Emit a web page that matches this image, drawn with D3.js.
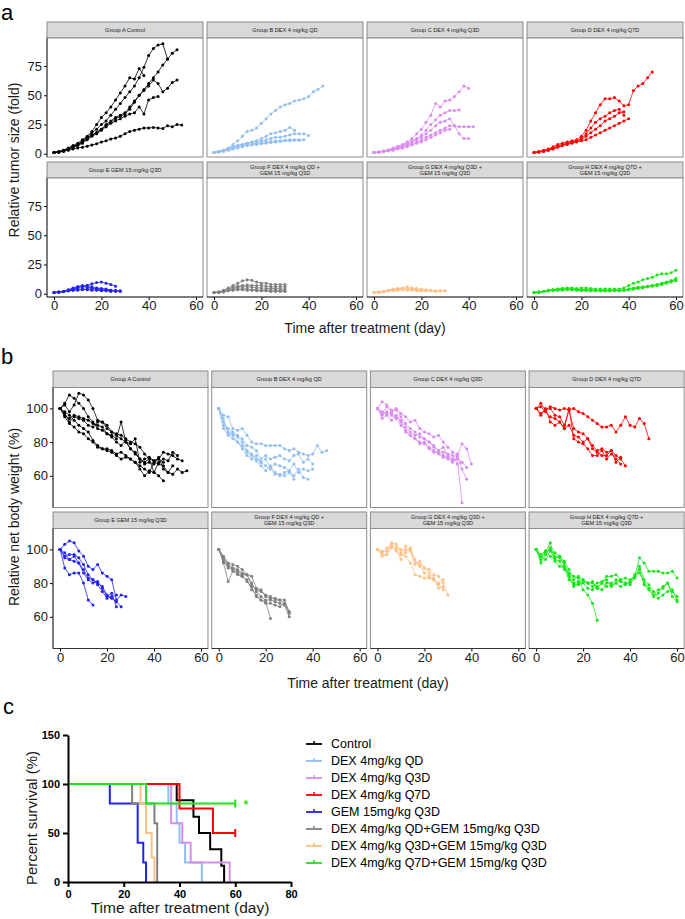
<!DOCTYPE html>
<html>
<head>
<meta charset="utf-8">
<script src="https://cdn.jsdelivr.net/npm/d3@7"></script>
<style>
  body { margin: 0; background: #fff; }
  svg { display: block; font-family: "Liberation Sans", Arial, sans-serif; }
</style>
</head>
<body>
<svg id="fig" width="685" height="919"></svg>
<script>
// ---------- data ----------
const days = [0,2,4,6,8,10,12,14,16,18,20,22,24,26,28,30,32,34,36,38,40,42,44,46,48,50,52,54,56,58,60];

const groupNames = ["Group A Control", "Group B DEX 4 mg/kg QD", "Group C DEX 4 mg/kg Q3D", "Group D DEX 4 mg/kg Q7D",
  "Group E GEM 15 mg/kg Q3D", "Group F DEX 4 mg/kg QD +\nGEM 15 mg/kg Q3D",
  "Group G DEX 4 mg/kg Q3D +\nGEM 15 mg/kg Q3D", "Group H DEX 4 mg/kg Q7D +\nGEM 15 mg/kg Q3D"];
const groupColors = ["#000000", "#92BFEE", "#D98CF0", "#FF0000", "#2222F0", "#808080", "#FDC086", "#1AE51A"];

// relative tumor size (fold), one array per mouse, measured at days[]
const tumorA = [
  [1,1.5,2,3,4,5,5.5,6.5,7.5,8.5,10,11,12.5,13.5,15,17,19,20,21,22,22,22.5,22,21.5,24,23,25,24.5],
  [1,2,3,5,7,9,12,15,19,25,31,35,40,46,52,58,65,64,73,67],
  [1,1.5,3,4,6,8,11,14,18,21,25,28,33,38,43,48,53,58,65,74,84,90,93,94,81],
  [1,1.5,2.5,4,6,8,10,13,16,18,21,25,28,31,33,35,40,45,50,54,58,63,60,53,56,61,63],
  [1,1.5,2.5,4,5.5,7.5,10,13,16,18,21,24,27,30,32,34,38,44,50,55,60,65,70,76,81,86,89],
  [1,1.5,2.5,4,5.5,7,9,12,15,17,20,23,26,28,30,32,34,35,40,34,46,48,49]
];
const tumorB = [
  [1,2,3,5,8,11,15,19,20,22,26,30,34,37,40,42,43,45,46,47,49,53,55,58],
  [1,2,3,4.5,6,7,8,9,10,11,13,15,17,18,19,20,22.5,20],
  [1,2,3,4,5.5,7,8,9,10,10.5,11,12,13,14,14,15,16,17,17,17,15.5],
  [1,1.5,2.5,3.5,5,6,7,8,8.5,9,9.5,10,10.5,11,11,11.5,12,12,12],
  [1,1.5,2,3,4,5,6,7,7.5,8,8.5,9,9.5,10,10.5,11,11,11.5,11.5,12]
];
const tumorC = [
  [1,1.5,2.5,3.5,5,6.5,8,10,13,17,21,27,33,43,40,45,46,49,53,58,56],
  [1,1.5,2,3,4,5.5,7,9,11,13,16,20,25,29,33,35,37,37,37.5],
  [1,1.5,2,3,4,5,6.5,8,10,12,14,17,20,24,27,28,30,24,17,13,13],
  [1,1.5,2,2.5,3.5,4.5,5.5,7,8.5,10,12,14,16,18,20,22,24,24,23,23,23,23],
  [1,1.5,2,2.5,3,4,5,6,7.5,9,10,12,14,16,18,20,21]
];
const tumorD = [
  [1,2,3,4,6,8,9,10,11,12,15,20,28,35,42,47,47,48,45,41,42,54,58,60,65,70],
  [1,1.5,2.5,3.5,5,6.5,8,9,10,11,13,17,22,27,30,32,35,37,38,33],
  [1,1.5,2,3,4.5,6,7.5,8.5,9.5,10.5,12,15,18,21,24,28,30,32,35,36],
  [1,1.5,2,3,4,5.5,7,8,9,10,11,12,14,16,18,20,22,24,26,28,30]
];
const tumorE = [
  [1,1.5,2,3,4,5,6,7,8.5,9.5,10,9,8,6.5],
  [1,1.5,2,3.5,5,6,7,7,6,5,4.5,4,3,3,2.5],
  [1,1.5,2,3,4,6,6.5,5.5,5,4,3,3,2.5],
  [1,1.2,1.8,2.5,3,4,4,3.5,3,3,2.5,2.5,2,2,2],
  [1,1.3,2,2.5,3,3,3.5,4,4,4.5,4,3.5,3]
];
const tumorF = [
  [1,1.5,3,5,7,9,11,12,11.5,10,9,9,8,8,8,8],
  [1,1.5,2.5,4,5.5,6.5,7,7.5,7,7,7,6.5,6,6,6,6],
  [1,1.3,2,3.5,4.5,5.5,6,6,5.5,5,5,4.5,4.5,4.5,4,4],
  [1,1.2,1.8,3,3.5,4,4,4,3.5,3.5,3,3,3,3,2.5,2.5],
  [1,1.2,1.5,2.5,3,3.5,3.5,3,3,2.5,2.5,2.5,2,2,2,2]
];
const tumorG = [
  [1,1.5,2,3,4,4.5,5,6,5,4.5,4,3.5,3,2.5,2.5,2.5],
  [1,1.3,2,3,3.5,4,4.5,4.5,4,3.5,3,3,2.5,2,2.5,2.5],
  [1,1.2,1.8,2.5,3,3,3.5,3,3,2.5,2.5,2.5],
  [1,1.4,2,2.5,3,3.5,4,4,4,3.5,3]
];
const tumorH = [
  [1,1.5,2,3,3.5,4,4.5,5,5,4.5,5,5,4.5,4,4,4,4,4,4,5,7,9,10,12,13,14,16,17,17,18,20],
  [1,1.5,2,3,3.5,4,4.5,4,4,3.5,3.5,3.5,3,3,3,3,3,3,3,3,3.5,4,5,5.5,6,7,7.5,8.5,9.5,11,13],
  [1,1.3,2,2.5,3,3.5,3.5,4,4,4,3.5,3,3,3,2.5,2.5,2.5,3,3,3,4,5,5.5,6,6.5,7,8,9,10,11,12],
  [1,1.2,1.8,2.5,3,3,3,3.5,3.5,3,3,3,2.5,2.5,2.5,2.5,2.5,2.5,2.5,3,3.5,4,4.5,5,6,6.5,7,8,9,10,11],
  [1,1.5,2,2.5,3,3.5,4,4,3.5,3.5,3,3,3,3]
];

// relative net body weight (%)
const weightA = [
  [100,97,92,95,94,93,90,89,92,92,88,86,85,84,82,80,79,77,73,70,69,70,74,73,72,70,69],
  [100,95,91,89,86,85,82,80,77,76,75,74,72,70,71,70,68,66,64,62,68,67,66,62,61,64,62,63],
  [100,103,108,106,103,100,95,92,88,87,85,83,80,78,81,76,73,70,68,70,62,60,57],
  [100,102,98,102,109,108,105,100,93,92,90,86,84,82,80,76,74,70,67,68,67,71,64,62,66],
  [100,98,96,93,90,88,86,81,78,76,76,75,73,74,72,70,68,64,60,63,62,68,70,69,74,72],
  [100,96,94,96,95,94,93,91,90,89,85,84,82,92,80,79,82,68,70,71,69,70,68]
];
const weightB = [
  [100,96,95,88,87,88,84,80,79,79,78,78,78,78,76,75,76,74,73,72,73,78,74,75],
  [100,92,88,86,84,82,78,77,75,70,72,70,71,72,70,69,72,73,68,70,67],
  [100,90,86,85,83,80,75,73,70,68,70,65,67,66,65,63,67,62,64,63,64],
  [100,88,84,82,80,78,74,72,69,66,63,66,62,60,62,63,60,64,59,58],
  [100,94,85,84,80,76,72,70,72,68,66,64,61,61,60,62,58]
];
const weightC = [
  [100,104,102,99,100,97,95,92,93,88,86,85,83,84,80,77,74,72,79,76,67],
  [100,97,101,98,99,95,91,88,86,83,82,80,78,75,77,72,70,73,64,58],
  [100,96,98,96,94,90,87,84,82,80,79,76,74,74,72,71,69,70,44],
  [100,94,96,93,96,92,86,84,82,79,80,77,75,73,71,70,68,71,68,65],
  [100,98,97,97,95,93,89,86,84,85,82,80,77,75,74,73,72,67,68]
];
const weightD = [
  [100,103,99,101,100,99,100,99,100,98,97,95,93,91,89,89,90,86,90,95,90,89,94,91,82],
  [100,97,99,100,96,95,90,99,88,86,85,82,78,75,76,74,75,72,70,66],
  [100,101,98,95,94,92,88,90,84,83,80,82,76,74,72,72,75,68,71],
  [100,96,100,92,90,92,88,100,82,80,79,76,72,72,75,70,73,70,67]
];
const weightE = [
  [100,103,105,104,99,96,90,88,91,86,84,82,70,73,72],
  [100,96,97,97,95,91,85,82,80,78,73,71,69,66],
  [100,98,94,96,92,86,82,80,81,77,72,74,66],
  [100,89,85,86,86,80,70,67],
  [100,95,94,93,92,88,83,82,79,75,71,72,73]
];
const weightF = [
  [100,96,92,91,90,88,85,84,77,76,72,71,71,70,70,63],
  [100,94,90,89,88,86,85,80,75,72,70,70,69,68,67,60],
  [100,93,89,88,86,84,81,78,72,70,68,68,67,66,68,62],
  [100,92,81,87,85,84,82,76,73,70,69,59],
  [100,95,91,89,87,85,85,79,76,75,73,72,70,70,68,63]
];
const weightG = [
  [100,99,99,104,103,98,102,100,92,91,89,88,85,84,80,73],
  [100,96,97,103,101,100,98,101,94,90,86,84,82,79,82],
  [100,98,101,102,100,94,100,99,91,93,89,86,83,80,76],
  [100,97,97,101,99,97,96,92,85,84,83,83,82,77,78]
];
const weightH = [
  [100,96,98,104,96,95,92,85,80,81,82,80,80,77,80,84,84,85,82,83,82,84,95,92,87,87,87,86,86,87,83],
  [100,94,99,100,93,90,89,82,79,79,80,77,76,78,76,80,80,82,81,80,79,84,88,79,76,72,74,78,80,72,69],
  [100,96,94,99,98,96,93,88,82,84,82,80,81,77,80,78,79,80,82,79,81,85,86,80,77,73,76,77,80,75,72],
  [100,92,97,101,95,96,90,84,78,80,81,80,78,80,81,82,78,80,78,80,80,83,90,82,79,75,71,73,75,76,70],
  [100,97,99,96,94,93,88,86,84,83,76,73,68,58]
];

const tumorGroups = [tumorA, tumorB, tumorC, tumorD, tumorE, tumorF, tumorG, tumorH];
const weightGroups = [weightA, weightB, weightC, weightD, weightE, weightF, weightG, weightH];

// Kaplan-Meier survival steps
const survNames = ["Control", "DEX 4mg/kg QD", "DEX 4mg/kg Q3D", "DEX 4mg/kg Q7D", "GEM 15mg/kg Q3D",
  "DEX 4mg/kg QD+GEM 15mg/kg Q3D", "DEX 4mg/kg Q3D+GEM 15mg/kg Q3D", "DEX 4mg/kg Q7D+GEM 15mg/kg Q3D"];
const survTimes = [
  [0,39,45,47,51,55,56],
  [0,36,39,40,42,48],
  [0,37,41,44,58],
  [0,40,52,60],
  [0,15,25,27,28],
  [0,23,31,32],
  [0,26,28,30,31],
  [0,28,60]
];
const survPct = [
  [100,83.3,66.7,50,33.3,16.7,0],
  [100,80,60,40,20,0],
  [100,60,40,20,0],
  [100,75,50,50],
  [100,80,40,20,0],
  [100,80,60,0],
  [100,80,50,25,0],
  [100,80,80]
];
const survCensored = [false, false, false, true, false, false, false, true];

const xTicks = [0, 20, 40, 60];
const tumorTicks = [0, 25, 50, 75];
const weightTicks = [60, 80, 100];
const survXTicks = [0, 20, 40, 60, 80];
const survYTicks = [0, 50, 100, 150];

// ---------- drawing ----------
const svg = d3.select("#fig");
const FONT = "Liberation Sans, Arial, sans-serif";

function drawFacets(cfg) {
  cfg.groups.forEach((series, i) => {
    const col = i % 4, row = Math.floor(i / 4);
    const left = cfg.x0 + col * cfg.colStep;
    const stripTop = cfg.top + row * cfg.rowStep;
    const top = stripTop + cfg.stripH;
    const x = d3.scaleLinear().domain([-3, 63]).range([left, left + cfg.plotW]);
    const y = d3.scaleLinear().domain(cfg.yDomain).range([top + cfg.plotH, top]);
    const g = svg.append("g");

    g.append("rect")
      .attr("x", left).attr("y", stripTop)
      .attr("width", cfg.plotW).attr("height", cfg.stripH)
      .attr("fill", "#d9d9d9").attr("stroke", "#8c8c8c").attr("stroke-width", 1);
    const lines = groupNames[i].split("\n");
    lines.forEach((t, k) => {
      g.append("text")
        .attr("x", left + cfg.plotW / 2)
        .attr("y", stripTop + cfg.stripH / 2 + (k - (lines.length - 1) / 2) * 5.6)
        .attr("dy", "0.35em")
        .attr("text-anchor", "middle")
        .attr("font-size", 5.6).attr("fill", "#1a1a1a")
        .text(t);
    });

    g.append("rect")
      .attr("x", left).attr("y", top)
      .attr("width", cfg.plotW).attr("height", cfg.plotH)
      .attr("fill", "#fff").attr("stroke", "#8c8c8c").attr("stroke-width", 1);

    const line = d3.line().x(d => x(d[0])).y(d => y(d[1]));
    series.forEach(vals => {
      const pts = vals.map((v, k) => [days[k], v]);
      g.append("path").datum(pts)
        .attr("d", line).attr("fill", "none")
        .attr("stroke", groupColors[i]).attr("stroke-width", 0.8);
      g.selectAll(null).data(pts).enter().append("circle")
        .attr("cx", d => x(d[0])).attr("cy", d => y(d[1]))
        .attr("r", 1.5).attr("fill", groupColors[i]);
    });

    if (col === 0) {
      const ax = g.append("g").attr("transform", `translate(${left},0)`)
        .call(d3.axisLeft(y).tickValues(cfg.yTicks).tickSize(3).tickPadding(2));
      ax.select(".domain").remove();
      ax.attr("font-size", 13).attr("font-family", FONT);
      ax.selectAll("text").attr("fill", "#1a1a1a");
      g.append("line").attr("x1", left).attr("x2", left)
        .attr("y1", top).attr("y2", top + cfg.plotH).attr("stroke", "#333");
    }
    if (row === 1) {
      const ax = g.append("g").attr("transform", `translate(0,${top + cfg.plotH})`)
        .call(d3.axisBottom(x).tickValues(xTicks).tickSize(3).tickPadding(1));
      ax.select(".domain").remove();
      ax.attr("font-size", 13).attr("font-family", FONT);
      ax.selectAll("text").attr("fill", "#1a1a1a");
      g.append("line").attr("x1", left).attr("x2", left + cfg.plotW)
        .attr("y1", top + cfg.plotH).attr("y2", top + cfg.plotH).attr("stroke", "#333");
    }
  });
}

function panelLabel(txt, x, y) {
  svg.append("text").attr("x", x).attr("y", y)
    .attr("font-size", 22).attr("font-family", FONT).text(txt);
}

function axisTitle(txt, x, y, rotate, size) {
  svg.append("text")
    .attr("transform", `translate(${x},${y})` + (rotate ? " rotate(-90)" : ""))
    .attr("text-anchor", "middle").attr("dy", "0.35em")
    .attr("font-size", size || 14).attr("font-family", FONT).attr("fill", "#1a1a1a")
    .text(txt);
}

// panel a
panelLabel("a", 1, 20);
drawFacets({
  groups: tumorGroups, x0: 47, colStep: 160, top: 22, rowStep: 140,
  stripH: 16, plotW: 156, plotH: 119, yDomain: [-2.8, 99], yTicks: tumorTicks
});
axisTitle("Relative tumor size (fold)", 14, 160, true);
axisTitle("Time after treatment (day)", 365, 328, false);

// panel b
panelLabel("b", 1, 364);
drawFacets({
  groups: weightGroups, x0: 53, colStep: 158.7, top: 371, rowStep: 141,
  stripH: 16.5, plotW: 155, plotH: 120, yDomain: [41.2, 112.4], yTicks: weightTicks
});
axisTitle("Relative net body weight (%)", 14, 517, true);
axisTitle("Time after treatment (day)", 368, 683, false);

// panel c
panelLabel("c", 3, 714);
const sx = d3.scaleLinear().domain([0, 80]).range([68, 291]);
const sy = d3.scaleLinear().domain([0, 150]).range([882, 735]);

const gc = svg.append("g");
const step = d3.line().curve(d3.curveStepAfter).x(d => sx(d[0])).y(d => sy(d[1]));
survTimes.forEach((ts, i) => {
  const pts = ts.map((t, k) => [t, survPct[i][k]]);
  gc.append("path").datum(pts)
    .attr("d", step).attr("fill", "none")
    .attr("stroke", groupColors[i]).attr("stroke-width", 2);
  if (survCensored[i]) {
    const last = pts[pts.length - 1];
    gc.append("line")
      .attr("x1", sx(last[0])).attr("x2", sx(last[0]))
      .attr("y1", sy(last[1]) - 4).attr("y2", sy(last[1]) + 4)
      .attr("stroke", groupColors[i]).attr("stroke-width", 2);
  }
});
gc.append("text").attr("x", sx(63)).attr("y", sy(80) + 5)
  .attr("font-size", 12).attr("font-weight", "bold").attr("font-family", FONT)
  .attr("fill", groupColors[7]).text("*");

const axL = gc.append("g").attr("transform", "translate(68,0)")
  .call(d3.axisLeft(sy).tickValues(survYTicks).tickSize(5).tickPadding(3).tickSizeOuter(0));
const axB = gc.append("g").attr("transform", "translate(0,882)")
  .call(d3.axisBottom(sx).tickValues(survXTicks).tickSize(5).tickPadding(3).tickSizeOuter(0));
[axL, axB].forEach(ax => {
  ax.attr("font-size", 11).attr("font-weight", "bold").attr("font-family", FONT);
  ax.selectAll("path, line").attr("stroke-width", 2);
});
axisTitle("Percent survival (%)", 32, 818, true, 15);
axisTitle("Time after treatment (day)", 180, 908, false, 15.5);

// legend
const leg = svg.append("g");
survNames.forEach((name, i) => {
  const yy = 744 + i * 17;
  leg.append("line").attr("x1", 306).attr("x2", 322).attr("y1", yy).attr("y2", yy)
    .attr("stroke", groupColors[i]).attr("stroke-width", 1.8);
  leg.append("line").attr("x1", 314).attr("x2", 314).attr("y1", yy - 3).attr("y2", yy)
    .attr("stroke", groupColors[i]).attr("stroke-width", 1.5);
  leg.append("text").attr("x", 331).attr("y", yy).attr("dy", "0.35em")
    .attr("font-size", 12.5).attr("font-family", FONT).text(name);
});
</script>
</body>
</html>
